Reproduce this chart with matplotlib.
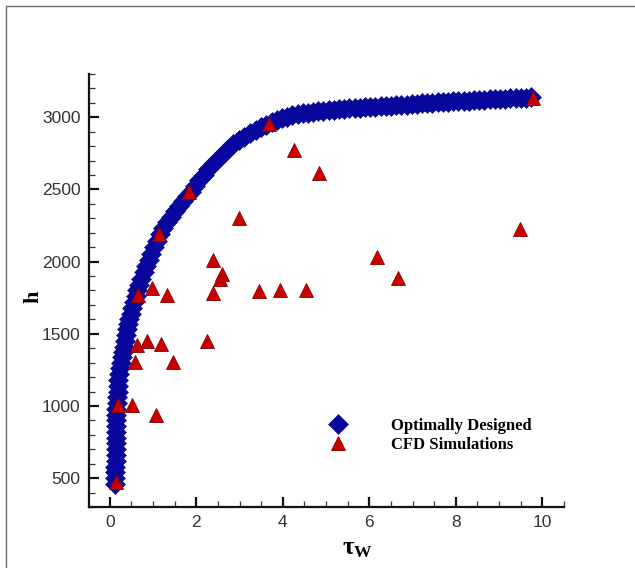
import matplotlib
matplotlib.use("Agg")
import matplotlib.pyplot as plt
from matplotlib.patches import Rectangle
from matplotlib.ticker import MultipleLocator

# Optimally designed points (tau_w, h)
opt_tau = [0.13, 0.13, 0.13, 0.13, 0.14, 0.14, 0.14, 0.14, 0.14, 0.15, 0.15, 0.15, 0.15, 0.15,
           0.16, 0.17, 0.18, 0.19, 0.20,
           0.22, 0.24, 0.26, 0.28, 0.30, 0.33,
           0.35, 0.38, 0.40, 0.43, 0.45, 0.48,
           0.52, 0.56, 0.60, 0.64, 0.68, 0.72,
           0.78, 0.84, 0.90, 0.96, 1.02, 1.09, 1.16,
           1.24, 1.33, 1.42, 1.51, 1.60, 1.69, 1.78, 1.87,
           1.97, 2.07, 2.17, 2.28, 2.39,
           2.50, 2.61, 2.73, 2.85,
           2.98, 3.11, 3.24, 3.37, 3.50, 3.62, 3.74,
           3.86, 3.98,
           4.10, 4.22, 4.34, 4.46, 4.58, 4.70, 4.82, 4.94, 5.06, 5.18, 5.30, 5.42,
           5.54, 5.66, 5.78, 5.90, 6.02, 6.14, 6.26, 6.38, 6.50, 6.62, 6.74, 6.86,
           6.98, 7.10, 7.22, 7.34, 7.46, 7.58, 7.70, 7.82, 7.94, 8.06, 8.18, 8.30,
           8.42, 8.54, 8.66, 8.78, 8.90, 9.02, 9.14, 9.26, 9.38, 9.50, 9.62, 9.74]
opt_h = [460, 500, 540, 580, 620, 660, 700, 740, 780, 820, 860, 900, 940, 980,
         1020, 1060, 1100, 1140, 1180,
         1220, 1260, 1300, 1340, 1375, 1410,
         1450, 1490, 1530, 1570, 1605, 1640,
         1680, 1720, 1760, 1800, 1840, 1880,
         1925, 1968, 2010, 2055, 2098, 2145, 2190,
         2232, 2272, 2310, 2348, 2385, 2420, 2452, 2485,
         2525, 2565, 2602, 2640, 2676,
         2710, 2745, 2782, 2815,
         2840, 2865, 2888, 2910, 2930, 2948, 2965,
         2982, 2995,
         3005, 3013, 3020, 3027, 3033, 3038, 3043, 3047, 3050, 3053, 3056, 3059,
         3061, 3063, 3066, 3068, 3071, 3073, 3076, 3078, 3081, 3083, 3086, 3088,
         3091, 3093, 3096, 3099, 3101, 3104, 3106, 3108, 3110, 3112, 3114, 3116,
         3118, 3120, 3122, 3124, 3126, 3128, 3130, 3131, 3133, 3135, 3137, 3139]

# CFD simulation results (tau_w, h)
cfd_tau = [9.78, 3.69, 4.27, 4.84, 1.84, 2.99, 1.14, 9.48, 2.38, 6.18,
           2.59, 2.55, 6.67, 2.39, 3.46, 3.93, 4.53, 2.24, 0.65, 0.98,
           1.32, 0.62, 0.85, 1.18, 0.58, 1.47, 0.20, 0.51, 1.07, 0.145]
cfd_h = [3135, 2955, 2775, 2613, 2485, 2302, 2193, 2223, 2009, 2032,
         1912, 1877, 1884, 1783, 1794, 1806, 1806, 1451, 1767, 1817,
         1767, 1421, 1449, 1428, 1304, 1304, 1004, 1004, 937, 471]

x_ticks = [0, 2, 4, 6, 8, 10]
y_ticks = [500, 1000, 1500, 2000, 2500, 3000]

plt.rcParams["mathtext.fontset"] = "custom"
plt.rcParams["mathtext.bf"] = "Liberation Serif:bold"
plt.rcParams["mathtext.rm"] = "Liberation Serif"

fig = plt.figure(figsize=(6.35, 5.68), dpi=100)
fig.patch.set_facecolor("white")
fig.patches.append(Rectangle((6 / 635, -0.05), 1.1, (568 - 6) / 568 + 0.05,
                             transform=fig.transFigure, fill=False,
                             edgecolor="#6a6a6a", linewidth=1.0))

ax = fig.add_axes([89 / 635, (568 - 507) / 568, (564 - 89) / 635, (507 - 74) / 568])

ax.plot(opt_tau, opt_h, linestyle="none", marker="D", markersize=10.2,
        markerfacecolor="#0808a0", markeredgecolor="#06068a", markeredgewidth=0.4,
        label="Optimally Designed", zorder=2)
ax.plot(cfd_tau, cfd_h, linestyle="none", marker="^", markersize=9.5,
        markerfacecolor="#c80000", markeredgecolor="#8a0000", markeredgewidth=0.6,
        label="CFD Simulations", zorder=3)

ax.set_xlim(-0.48, 10.5)
ax.set_ylim(300, 3300)
ax.set_xticks(x_ticks)
ax.set_yticks(y_ticks)
ax.xaxis.set_minor_locator(MultipleLocator(0.5))
ax.yaxis.set_minor_locator(MultipleLocator(100))

for side in ("top", "right"):
    ax.spines[side].set_visible(False)
for side in ("left", "bottom"):
    ax.spines[side].set_linewidth(1.6)
    ax.spines[side].set_color("#111111")

ax.tick_params(which="major", direction="in", length=7, width=1.6, color="#111111",
               labelsize=12.5, labelcolor="#333333", pad=6)
ax.tick_params(which="minor", direction="in", length=4, width=0.9, color="#333333")
for lab in ax.get_xticklabels() + ax.get_yticklabels():
    lab.set_fontfamily("Liberation Sans")

ax.set_xlabel(r"$\mathbf{τ_W}$", fontsize=18)
ax.xaxis.set_label_coords(0.565, -0.066)
ax.set_ylabel("h", fontfamily="Liberation Serif", fontweight="bold", fontsize=16,
              rotation=90)
ax.yaxis.set_label_coords(-0.097, 0.485)

leg = ax.legend(loc="upper left", bbox_to_anchor=(0.475, 0.24), frameon=False,
                handlelength=1.0, handletextpad=2.7, labelspacing=0.15,
                prop={"family": "Liberation Serif", "weight": "bold", "size": 12})

fig.savefig("out.png", dpi=100)
